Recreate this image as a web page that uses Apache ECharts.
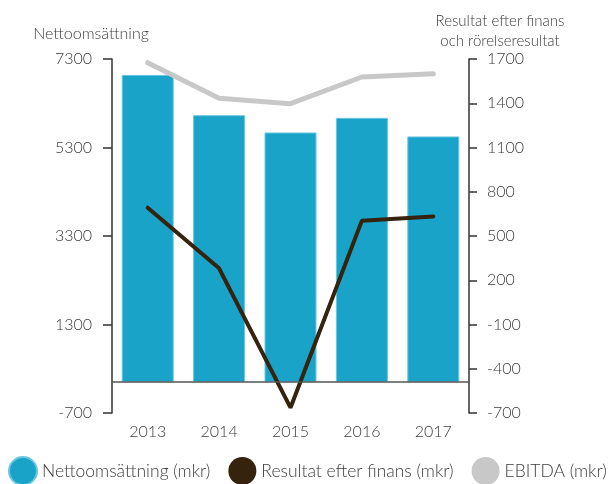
<!DOCTYPE html>
<html>
<head>
<meta charset="utf-8">
<script src="https://cdn.jsdelivr.net/npm/echarts@6/dist/echarts.min.js"></script>
<style>
  html, body { margin: 0; padding: 0; background: #fff; }
  #chart { width: 608px; height: 484px; }
</style>
</head>
<body>
<div id="chart"></div>
<script>
// data
var years = ['2013', '2014', '2015', '2016', '2017'];
var nettoomsattning = [6940, 6030, 5640, 5970, 5550];
var resultat = [692, 281, -664, 604, 633];
var ebitda = [1675, 1434, 1397, 1578, 1600];
var leftTicks = [-700, 1300, 3300, 5300, 7300];
var rightTicks = [-700, -400, -100, 200, 500, 800, 1100, 1400, 1700];

var font = 'Lato';
var textColor = '#3c3c3c';
var axisColor = '#333';

function plain(v) { return String(v); }

var chart = echarts.init(document.getElementById('chart'));

var option = {
    animation: false,
    textStyle: { fontFamily: font },
    title: [
        {
            text: 'Nettoomsättning',
            left: 86, top: 21, textAlign: 'center',
            textStyle: { fontFamily: font, fontWeight: 300, fontSize: 16, color: textColor }
        },
        {
            text: 'Resultat efter finans\noch rörelseresultat',
            left: 495, top: 6, textAlign: 'center',
            textStyle: { fontFamily: font, fontWeight: 300, fontSize: 15, lineHeight: 20, color: textColor }
        }
    ],
    grid: { left: 112, right: 139, top: 59, bottom: 71 },
    legend: {
        left: 8, top: 456, width: 608, padding: 0,
        icon: 'circle', itemWidth: 28, itemHeight: 28, itemGap: 18,
        textStyle: { fontFamily: font, fontWeight: 300, fontSize: 17.5, color: textColor },
        data: ['Nettoomsättning (mkr)', 'Resultat efter finans (mkr)', 'EBITDA (mkr)']
    },
    xAxis: {
        type: 'category',
        data: years,
        axisLine: { show: false },
        axisTick: { show: false },
        axisLabel: { fontSize: 16, fontWeight: 300, color: textColor, margin: 11, fontFamily: font }
    },
    yAxis: [
        {
            type: 'value', min: -700, max: 7300,
            splitLine: { show: false },
            axisLine: { show: true, lineStyle: { color: axisColor, width: 1.5 } },
            axisTick: { show: true, customValues: leftTicks, length: 9, lineStyle: { color: axisColor, width: 1.5 } },
            axisLabel: { customValues: leftTicks, formatter: plain, fontSize: 16, fontWeight: 300, color: textColor, margin: 20, fontFamily: font }
        },
        {
            type: 'value', min: -700, max: 1700, position: 'right',
            splitLine: { show: false },
            axisLine: { show: true, lineStyle: { color: axisColor, width: 1.5 } },
            axisTick: { show: true, customValues: rightTicks, length: 8, lineStyle: { color: axisColor, width: 1.5 } },
            axisLabel: { customValues: rightTicks, formatter: plain, fontSize: 16, fontWeight: 300, color: textColor, margin: 18, fontFamily: font }
        }
    ],
    series: [
        {
            name: 'Nettoomsättning (mkr)',
            type: 'bar',
            yAxisIndex: 0,
            data: nettoomsattning,
            barWidth: 52,
            itemStyle: { color: '#19a3c8', borderColor: '#6cc6df', borderWidth: 1 },
            markLine: {
                silent: true, symbol: 'none', label: { show: false },
                lineStyle: { color: '#555', width: 1.5, type: 'solid' },
                data: [{ yAxis: 0 }]
            }
        },
        {
            name: 'EBITDA (mkr)',
            type: 'line',
            yAxisIndex: 1,
            data: ebitda,
            showSymbol: false, symbol: 'circle',
            itemStyle: { color: '#c8c8c8' },
            lineStyle: { color: '#c8c8c8', width: 5, cap: 'round' },
            z: 3
        },
        {
            name: 'Resultat efter finans (mkr)',
            type: 'line',
            yAxisIndex: 1,
            data: resultat,
            showSymbol: false, symbol: 'circle',
            itemStyle: { color: '#35230d' },
            lineStyle: { color: '#35230d', width: 4, cap: 'round' },
            z: 4
        }
    ]
};

chart.setOption(option);
</script>
</body>
</html>
